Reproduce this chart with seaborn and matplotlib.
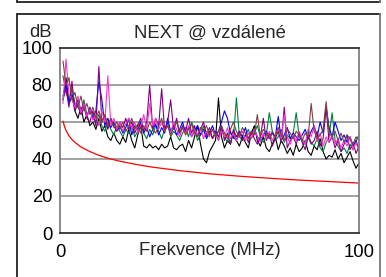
import numpy as np
import pandas as pd
import matplotlib
matplotlib.use("Agg")
import matplotlib.pyplot as plt
from matplotlib.lines import Line2D
import seaborn as sns

sns.set_theme(style="white")
plt.rcParams["font.family"] = ["Liberation Sans", "DejaVu Sans"]

## DATA
freq = np.arange(1, 101)

black = [72, 84, 70, 74, 66, 62, 68, 60, 64, 58,
         60, 56, 62, 55, 58, 52, 50, 54, 50, 48,
         52, 49, 56, 50, 46, 53, 58, 47, 46, 48,
         46, 47, 45, 48, 46, 47, 52, 46, 45, 47,
         48, 44, 50, 46, 52, 58, 48, 40, 38, 44,
         47, 50, 73, 52, 46, 50, 48, 55, 50, 47,
         52, 49, 46, 54, 58, 50, 47, 52, 46, 44,
         48, 52, 45, 50, 47, 43, 46, 42, 48, 44,
         46, 50, 44, 42, 47, 45, 51, 44, 40, 42,
         41, 45, 40, 43, 38, 41, 44, 39, 35, 38]
green = [85, 76, 72, 78, 70, 68, 65, 72, 64, 66,
         62, 60, 64, 58, 55, 60, 56, 53, 58, 55,
         52, 56, 54, 58, 52, 55, 60, 54, 51, 56,
         53, 58, 55, 51, 56, 60, 52, 55, 53, 50,
         54, 57, 52, 60, 56, 50, 53, 58, 52, 55,
         51, 54, 50, 56, 52, 49, 55, 51, 73, 52,
         50, 53, 56, 51, 54, 58, 52, 49, 53, 65,
         55, 50, 52, 56, 49, 53, 51, 54, 65, 52,
         50, 48, 53, 49, 47, 51, 46, 44, 49, 52,
         65, 50, 47, 44, 46, 43, 48, 45, 50, 53]
blue = [74, 80, 70, 75, 68, 72, 66, 70, 63, 68,
        62, 66, 82, 72, 58, 62, 57, 60, 55, 58,
        54, 57, 62, 53, 58, 56, 60, 54, 57, 52,
        56, 59, 53, 57, 54, 62, 55, 58, 53, 56,
        60, 54, 57, 52, 55, 58, 53, 56, 51, 54,
        58, 53, 55, 60, 66, 62, 54, 52, 50, 55,
        52, 57, 51, 54, 56, 52, 50, 53, 55, 51,
        54, 52, 63, 50, 53, 57, 51, 54, 52, 50,
        53, 56, 51, 55, 58, 52, 60, 54, 68, 57,
        52, 60, 55, 50, 53, 49, 52, 47, 50, 45]
purple = [72, 78, 68, 82, 66, 70, 64, 68, 62, 60,
          66, 58, 90, 60, 64, 56, 62, 58, 55, 60,
          57, 62, 56, 60, 54, 58, 62, 55, 60, 80,
          56, 62, 58, 78, 55, 60, 72, 56, 62, 54,
          58, 55, 62, 54, 58, 52, 56, 60, 53, 57,
          51, 55, 52, 58, 50, 54, 48, 56, 52, 55,
          50, 53, 49, 55, 51, 48, 52, 62, 50, 54,
          47, 51, 55, 49, 68, 46, 50, 52, 48, 54,
          49, 45, 52, 48, 50, 55, 47, 51, 68, 49,
          52, 46, 50, 44, 48, 53, 45, 49, 43, 47]
pink = [70, 94, 75, 72, 68, 74, 65, 70, 63, 67,
        61, 64, 58, 66, 60, 85, 58, 62, 56, 60,
        55, 59, 62, 56, 60, 54, 58, 64, 56, 70,
        58, 62, 56, 60, 55, 58, 54, 60, 56, 52,
        57, 54, 58, 52, 56, 53, 57, 51, 55, 52,
        56, 53, 50, 55, 52, 57, 51, 54, 50, 53,
        55, 50, 54, 51, 56, 52, 49, 54, 51, 55,
        50, 53, 57, 51, 64, 52, 48, 53, 50, 55,
        51, 48, 56, 52, 58, 50, 54, 47, 52, 49,
        53, 48, 51, 46, 50, 47, 52, 45, 49, 44]
brown = [93, 80, 84, 72, 76, 68, 74, 66, 70, 64,
         68, 62, 66, 60, 64, 58, 62, 57, 60, 56,
         60, 55, 58, 62, 56, 59, 54, 58, 55, 60,
         56, 54, 58, 62, 55, 58, 53, 57, 60, 54,
         57, 53, 56, 59, 54, 52, 57, 55, 58, 53,
         56, 52, 55, 58, 54, 51, 56, 60, 55, 52,
         57, 54, 51, 55, 53, 64, 52, 56, 54, 51,
         55, 52, 57, 53, 50, 56, 54, 51, 55, 53,
         50, 54, 52, 70, 55, 51, 53, 56, 71, 54,
         52, 55, 50, 54, 49, 53, 51, 48, 52, 50]

limit_freq = [1, 1.5, 2, 3, 4, 5, 7, 10, 13, 16, 20, 25, 30, 40, 50, 60, 70, 80, 90, 100]
limit_db = [60.5, 57.5, 55.5, 52.5, 50.5, 49, 46.5, 44, 42, 40.4, 38.8, 37.2, 35.8,
            33.7, 32, 30.7, 29.6, 28.6, 27.8, 27]

series = {"black": black, "green": green, "blue": blue,
          "purple": purple, "pink": pink, "brown": brown}
colors = {"black": "#000000", "green": "#00803C", "blue": "#0000FF",
          "purple": "#800080", "pink": "#FF33CC", "brown": "#804040"}

df = pd.concat([pd.DataFrame({"f": freq, "dB": vals, "pair": name})
                for name, vals in series.items()], ignore_index=True)
lim = pd.DataFrame({"f": limit_freq, "dB": limit_db})

## PLOT
FS = 13.3
fig = plt.figure(figsize=(3.86, 2.77), dpi=100)
ax = fig.add_axes([60 / 386, 1 - 233 / 277, 299 / 386, 185 / 277])

for y in [20, 40, 60, 80]:
    ax.axhline(y, color="#999999", lw=1.3, zorder=0)

sns.lineplot(data=df, x="f", y="dB", hue="pair", palette=colors, lw=0.8,
             legend=False, ax=ax)
sns.lineplot(data=lim, x="f", y="dB", color="#FF0000", lw=0.9, ax=ax)

ax.set_xlim(0, 100)
ax.set_ylim(0, 100)
ax.set_xticks([0, 100])
ax.set_yticks([0, 20, 40, 60, 80, 100])
ax.tick_params(length=0, labelsize=FS, colors="black")
ax.tick_params(axis="y", pad=5.5)
ax.tick_params(axis="x", pad=8)
ax.set_xlabel("")
ax.set_ylabel("")
ax.text(0.5, -0.092, "Frekvence (MHz)", transform=ax.transAxes, ha="center",
        va="center", fontsize=FS)
ax.set_title("NEXT @ vzdálené", fontsize=FS, pad=7)
ax.text(-0.027, 1.04, "dB", transform=ax.transAxes, ha="right", va="bottom",
        fontsize=FS)

for side in ["left", "right"]:
    ax.spines[side].set_color("#808080")
for side in ["top", "bottom"]:
    ax.spines[side].set_color("#333333")
for s in ax.spines.values():
    s.set_linewidth(1.3)

# outer frames
def px(x, y):
    return x / 386, 1 - y / 277

for (x0, y0), (x1, y1), c in [((17, 14), (380, 14), "#222222"),
                              ((17, 14), (17, 280), "#222222"),
                              ((380, 14), (380, 280), "#777777"),
                              ((17, 2), (380, 2), "#222222"),
                              ((17, -5), (17, 2), "#222222"),
                              ((380, -5), (380, 2), "#777777")]:
    a, b = px(x0, y0)
    c2, d = px(x1, y1)
    fig.add_artist(Line2D([a, c2], [b, d], color=c, lw=1.3))

fig.savefig("out.png", dpi=100)
